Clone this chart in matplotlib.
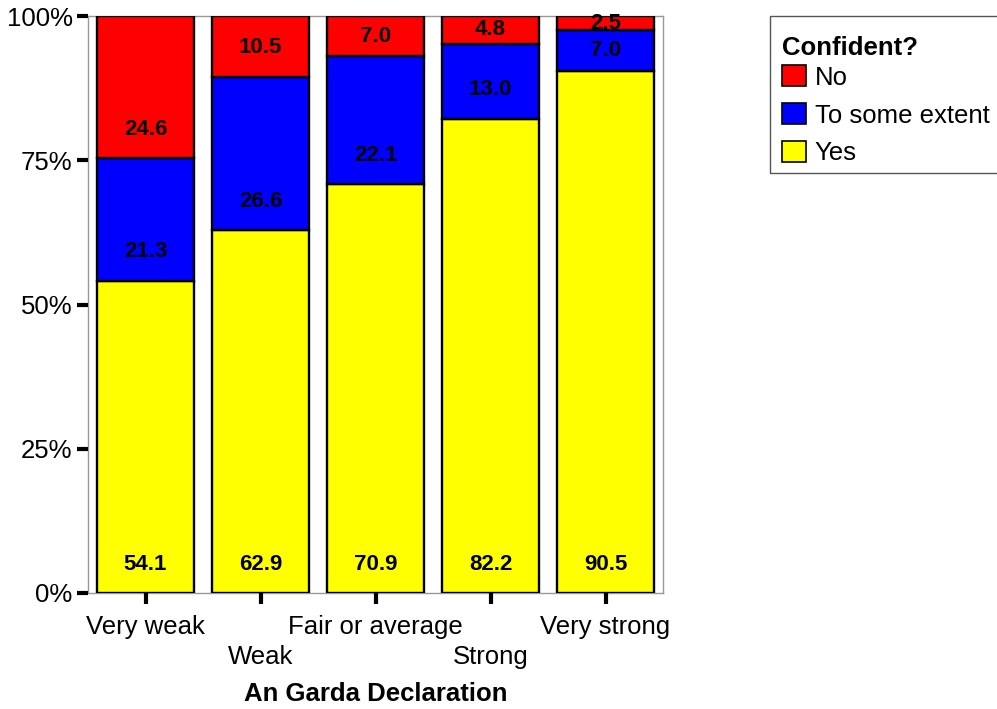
import matplotlib
matplotlib.use("Agg")
import matplotlib.pyplot as plt
from matplotlib.patches import Patch, Rectangle
import numpy as np

plt.rcParams['font.family'] = ['Liberation Sans', 'DejaVu Sans']

categories = ["Very weak", "Weak", "Fair or average", "Strong", "Very strong"]
yes_vals = [54.1, 62.9, 70.9, 82.2, 90.5]
some_vals = [21.3, 26.6, 22.1, 13.0, 7.0]
no_vals = [24.6, 10.5, 7.0, 4.8, 2.5]
series_names = ["Yes", "To some extent", "No"]
series_colors = ["#FFFF00", "#0000FF", "#FF0000"]
ytick_vals = [0, 25, 50, 75, 100]
ytick_labels = ["0%", "25%", "50%", "75%", "100%"]

fig = plt.figure(figsize=(9.97, 7.09), dpi=100)
ax = fig.add_axes([88/997, 1-593/709, (663-88)/997, (593-16)/709])

x = np.arange(len(categories))
bottom = np.zeros(len(categories))
for vals, name, col in zip([yes_vals, some_vals, no_vals], series_names, series_colors):
    vals = np.array(vals)
    ax.bar(x, vals, bottom=bottom, width=0.845, color=col, edgecolor="black",
           linewidth=1.7, label=name, zorder=2)
    for xi, b, v in zip(x, bottom, vals):
        ypos = b + min(5.0, v / 2)
        ax.text(xi, ypos, f"{v:.1f}", ha="center", va="center",
                fontsize=16, fontweight="bold", zorder=3)
    bottom = bottom + vals

ax.set_xlim(-0.5, len(categories) - 0.5)
ax.set_ylim(0, 100)
ax.set_yticks(ytick_vals)
ax.set_yticklabels(ytick_labels)
ax.set_xticks(x)
labels = [c if i % 2 == 0 else "\n" + c for i, c in enumerate(categories)]
ax.set_xticklabels(labels)
for lab in ax.get_xticklabels():
    lab.set_linespacing(1.34)
ax.tick_params(axis="both", colors="black", width=3, length=8, labelsize=18.5)
ax.tick_params(axis="y", pad=3)
ax.tick_params(axis="x", pad=7.5)
for s in ax.spines.values():
    s.set_color("#999999")
    s.set_linewidth(1)
    s.set_zorder(1)

ax.set_xlabel("An Garda Declaration", fontsize=18.5, fontweight="bold", labelpad=9.5)

handles = [Patch(facecolor=c, edgecolor="black", linewidth=1.2) for c in series_colors[::-1]]
leg = fig.legend(handles, series_names[::-1], title="Confident?",
                 loc="upper left", bbox_to_anchor=(782/997, 1-36/709),
                 fontsize=18.5, title_fontproperties={"weight": "bold", "size": 18.5},
                 frameon=False,
                 handlelength=0.93, handleheight=0.9, handletextpad=0.35,
                 labelspacing=0.52, borderpad=0, borderaxespad=0)
leg._legend_box.align = "left"
leg._legend_box.sep = 0.2 * 18.5

frame = Rectangle((770/997, 1-173/709), 240/997, (173-16)/709, transform=fig.transFigure,
                  facecolor="none", edgecolor="#555555", linewidth=1, clip_on=False)
fig.add_artist(frame)

fig.savefig("out.png", dpi=100)
